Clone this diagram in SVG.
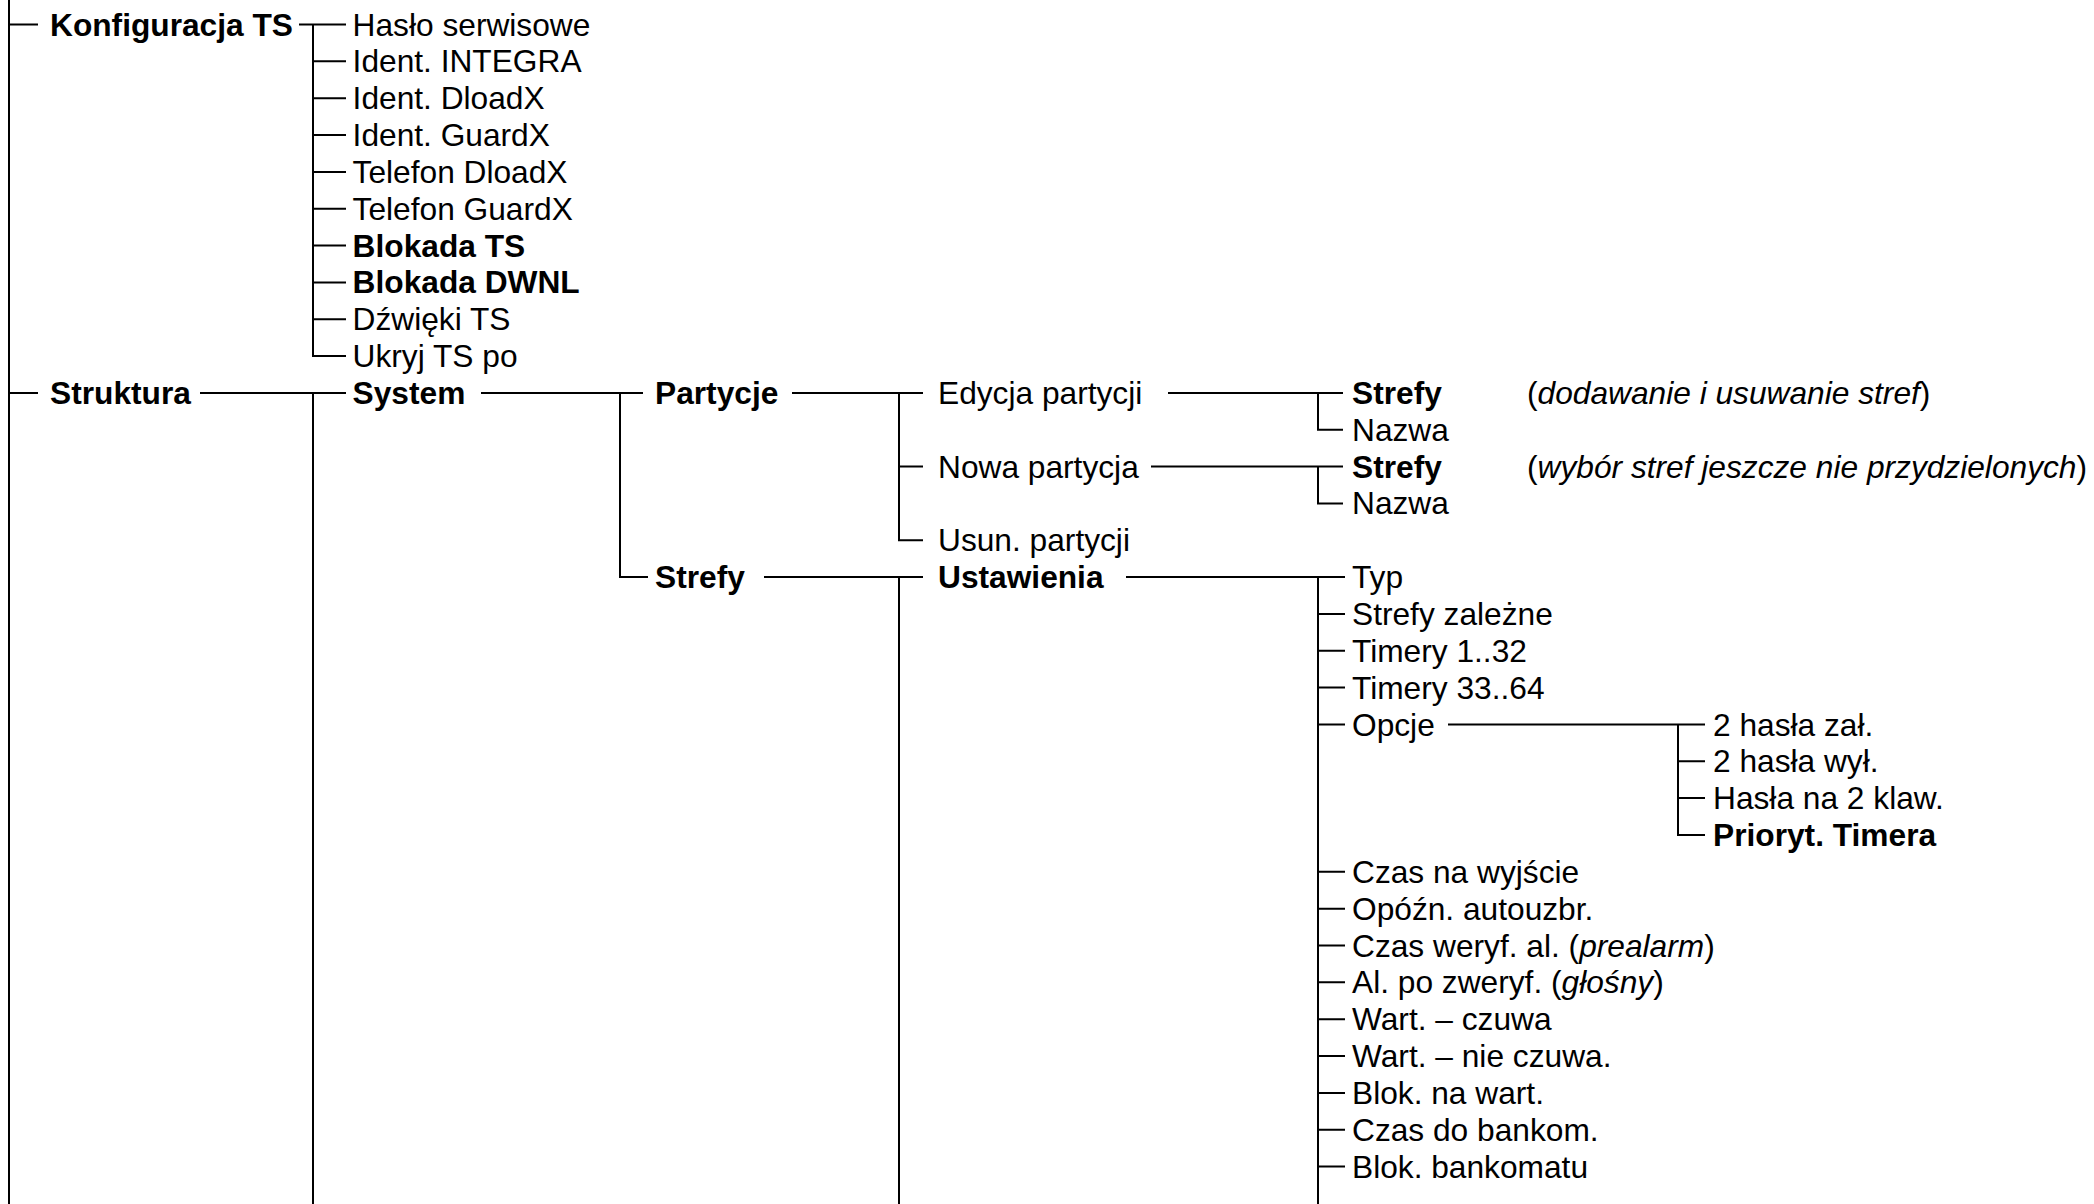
<svg xmlns="http://www.w3.org/2000/svg" width="2094" height="1204" viewBox="0 0 2094 1204">
<style>
text{font-family:"Liberation Sans",Arial,sans-serif;font-size:31.7px;fill:#000}
.b{font-weight:bold}
.i{font-style:italic}
#connectors path{fill:none;stroke:#000;stroke-width:2}
</style>
<rect x="0" y="0" width="2094" height="1204" fill="#fff"/>
<g id="connectors">
<path d="M9 0V1204M9 24.5H38M9 392.9H38"/>
<path d="M299 24.5H346M313 24.5V356.1H346M313 61.3H346M313 98.2H346M313 135H346M313 171.9H346M313 208.7H346M313 245.5H346M313 282.4H346M313 319.2H346"/>
<path d="M200 392.9H346M313 392.9V1204"/>
<path d="M481 392.9H643M620 392.9V577.1H648"/>
<path d="M792 392.9H923M899 392.9V540.3H923M899 466.6H923"/>
<path d="M764 577.1H923M899 577.1V1204"/>
<path d="M1168 392.9H1343M1318 392.9V429.7H1343"/>
<path d="M1151 466.6H1343M1318 466.6V503.4H1343"/>
<path d="M1126 577.1H1345M1318 577.1V1204M1318 613.9H1345M1318 650.8H1345M1318 687.6H1345M1318 724.5H1345M1318 871.8H1345M1318 908.7H1345M1318 945.5H1345M1318 982.3H1345M1318 1019.2H1345M1318 1056H1345M1318 1092.9H1345M1318 1129.7H1345M1318 1166.5H1345"/>
<path d="M1448 724.5H1705M1678 724.5V835H1705M1678 761.3H1705M1678 798.1H1705"/>
</g>
<g id="n-konfiguracja"><text class="b" x="50" y="35.5">Konfiguracja TS</text></g>
<g id="n-haslo"><text x="352.6" y="35.5">Hasło serwisowe</text></g>
<g id="n-ident-integra"><text x="352.6" y="72.3">Ident. INTEGRA</text></g>
<g id="n-ident-dloadx"><text x="352.6" y="109.2">Ident. DloadX</text></g>
<g id="n-ident-guardx"><text x="352.6" y="146">Ident. GuardX</text></g>
<g id="n-tel-dloadx"><text x="352.6" y="182.9">Telefon DloadX</text></g>
<g id="n-tel-guardx"><text x="352.6" y="219.7">Telefon GuardX</text></g>
<g id="n-blokada-ts"><text class="b" x="352.6" y="256.5">Blokada TS</text></g>
<g id="n-blokada-dwnl"><text class="b" x="352.6" y="293.4">Blokada DWNL</text></g>
<g id="n-dzwieki"><text x="352.6" y="330.2">Dźwięki TS</text></g>
<g id="n-ukryj"><text x="352.6" y="367.1">Ukryj TS po</text></g>
<g id="n-struktura"><text class="b" x="50" y="403.9">Struktura</text></g>
<g id="n-system"><text class="b" x="352.6" y="403.9">System</text></g>
<g id="n-partycje"><text class="b" x="655" y="403.9">Partycje</text></g>
<g id="n-edycja"><text x="938" y="403.9">Edycja partycji</text></g>
<g id="n-edycja-strefy"><text class="b" x="1352" y="403.9">Strefy</text><text x="1527" y="403.9">(<tspan class="i">dodawanie i usuwanie stref</tspan>)</text></g>
<g id="n-edycja-nazwa"><text x="1352" y="440.7">Nazwa</text></g>
<g id="n-nowa"><text x="938" y="477.6">Nowa partycja</text></g>
<g id="n-nowa-strefy"><text class="b" x="1352" y="477.6">Strefy</text><text x="1527" y="477.6">(<tspan class="i">wybór stref jeszcze nie przydzielonych</tspan>)</text></g>
<g id="n-nowa-nazwa"><text x="1352" y="514.4">Nazwa</text></g>
<g id="n-usun"><text x="938" y="551.3">Usun. partycji</text></g>
<g id="n-strefy"><text class="b" x="655" y="588.1">Strefy</text></g>
<g id="n-ustawienia"><text class="b" x="938" y="588.1">Ustawienia</text></g>
<g id="n-typ"><text x="1352" y="588.1">Typ</text></g>
<g id="n-strefy-zal"><text x="1352" y="624.9">Strefy zależne</text></g>
<g id="n-timery1"><text x="1352" y="661.8">Timery 1..32</text></g>
<g id="n-timery2"><text x="1352" y="698.6">Timery 33..64</text></g>
<g id="n-opcje"><text x="1352" y="735.5">Opcje</text></g>
<g id="n-2hasla-zal"><text x="1713" y="735.5">2 hasła zał.</text></g>
<g id="n-2hasla-wyl"><text x="1713" y="772.3">2 hasła wył.</text></g>
<g id="n-hasla-2klaw"><text x="1713" y="809.1">Hasła na 2 klaw.</text></g>
<g id="n-prioryt"><text class="b" x="1713" y="846">Prioryt. Timera</text></g>
<g id="n-czas-wyj"><text x="1352" y="882.8">Czas na wyjście</text></g>
<g id="n-opozn"><text x="1352" y="919.7">Opóźn. autouzbr.</text></g>
<g id="n-czas-weryf"><text x="1352" y="956.5">Czas weryf. al. (<tspan class="i">prealarm</tspan>)</text></g>
<g id="n-al-po"><text x="1352" y="993.3">Al. po zweryf. (<tspan class="i">głośny</tspan>)</text></g>
<g id="n-wart-czuwa"><text x="1352" y="1030.2">Wart. – czuwa</text></g>
<g id="n-wart-nie"><text x="1352" y="1067">Wart. – nie czuwa.</text></g>
<g id="n-blok-wart"><text x="1352" y="1103.9">Blok. na wart.</text></g>
<g id="n-czas-bank"><text x="1352" y="1140.7">Czas do bankom.</text></g>
<g id="n-blok-bank"><text x="1352" y="1177.5">Blok. bankomatu</text></g>
</svg>
